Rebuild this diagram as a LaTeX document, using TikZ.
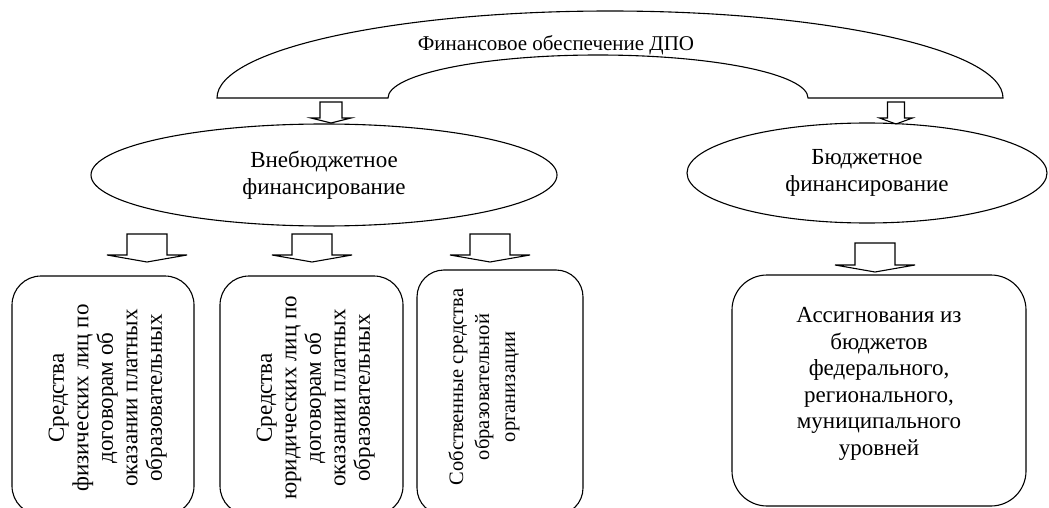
\documentclass[tikz,border=0pt]{standalone}
\usepackage{fontspec}
\setmainfont{Liberation Serif}
\usetikzlibrary{shapes.geometric, positioning}

\begin{document}
\begin{tikzpicture}[
        x=1pt, y=-1pt,
        line width=1.1pt,
        txt/.style={font=\fontsize{23}{26.5}\selectfont, align=center, inner sep=0pt},
        oval/.style={ellipse, draw, txt},
        vbox/.style={draw, rounded corners=29pt, inner sep=0pt},
        vtxt/.style={txt, font=\fontsize{23}{24.5}\selectfont, rotate=90, anchor=north},
        pics/darr/.style n args={4}{code={
            \draw[line join=miter] (-#1,0) -- (-#1,#3-#4) -- (-#2,#3-#4) -- (0,#3)
                -- (#2,#3-#4) -- (#1,#3-#4) -- (#1,0) -- cycle;
        }}
    ]
        \useasboundingbox (0,0) rectangle (1049,508);
        \clip (0,0) rectangle (1049,508);

        % top arch
        \draw (217,98) arc[start angle=180, end angle=360, x radius=393, y radius=87]
            -- (808,98) arc[start angle=0, end angle=-180, x radius=210, y radius=43] -- cycle;
        \node[txt, font=\fontsize{21}{24}\selectfont] (dpo) at (556,45) {Финансовое обеспечение ДПО};

        \pic at (331,102) {darr={11}{20}{21}{5}};
        \pic at (896,102) {darr={8.5}{16.5}{22}{6}};

        \node[oval, minimum width=466pt, minimum height=102pt] (vneb) at (324,175)
            {Внебюджетное\\финансирование};
        \node[oval, minimum width=360pt, minimum height=100pt] (bud) at (867,173)
            {Бюджетное\\финансирование};

        \pic at (147,234) {darr={20}{40}{28}{7}};
        \pic at (312,234) {darr={20}{40}{28}{7}};
        \pic at (490,234) {darr={20}{40}{28}{7}};
        \pic at (875,243) {darr={20}{40}{29}{7}};

        \node[vbox, minimum width=182pt, minimum height=239pt] (fiz) at (103,395.5) {};
        \node[vbox, minimum width=183pt, minimum height=239pt] (yur) at (311.5,395.5) {};
        \node[vbox, rounded corners=27pt, minimum width=166pt, minimum height=245pt] (sob) at (500,392.5) {};
        \node[vbox, rounded corners=35pt, minimum width=294pt, minimum height=231pt] (asg) at (879,390.5) {};

        \node[vtxt] (fiztxt) at (48,398) {Средства\\физических лиц по\\договорам об\\оказании платных\\образовательных};
        \node[vtxt] (yurtxt) at (256,398) {Средства\\юридических лиц по\\договорам об\\оказании платных\\образовательных};
        \node[vtxt, font=\fontsize{20.5}{26}\selectfont] (sobtxt) at (448,387) {Собственные средства\\образовательной\\организации};
        \node[txt] (asgtxt) at (879,384) {Ассигнования из\\бюджетов\\федерального,\\регионального,\\муниципального\\уровней};
    \end{tikzpicture}
\end{document}
